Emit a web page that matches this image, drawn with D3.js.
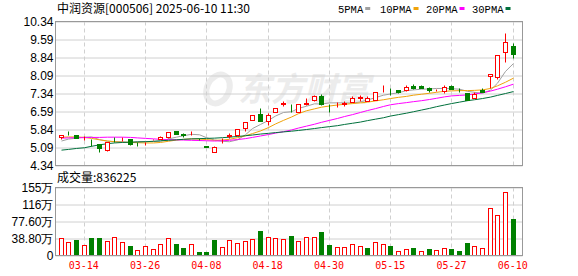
<!DOCTYPE html>
<html>
<head>
<meta charset="utf-8">
<script src="https://cdn.jsdelivr.net/npm/d3@7"></script>
<style>
  body { margin: 0; background: #fff; }
  svg { display: block; }
</style>
</head>
<body>
<svg id="chart"></svg>
<script>
// trading days shown on the chart
const dates = ['03-11','03-12','03-13','03-14','03-17','03-18','03-19','03-20','03-21','03-24',
  '03-25','03-26','03-27','03-28','03-31','04-01','04-02','04-03','04-07','04-08',
  '04-09','04-10','04-11','04-14','04-15','04-16','04-17','04-18','04-21','04-22',
  '04-23','04-24','04-25','04-28','04-29','04-30','05-06','05-07','05-08','05-09',
  '05-12','05-13','05-14','05-15','05-16','05-19','05-20','05-21','05-22','05-23',
  '05-26','05-27','05-28','05-29','05-30','06-03','06-04','06-05','06-06','06-10'];

const open = [5.52,5.70,5.62,5.47,5.42,5.23,4.97,5.44,5.44,5.44,
  5.28,5.26,5.40,5.44,5.51,5.76,5.66,5.68,5.46,5.14,
  4.90,5.35,5.56,5.59,5.92,6.24,6.48,6.20,6.56,6.92,
  6.59,6.59,6.90,7.05,7.22,6.82,6.89,6.91,6.98,7.16,
  7.04,7.08,7.44,7.40,7.48,7.49,7.67,7.67,7.59,7.48,
  7.45,7.65,7.50,7.35,7.17,7.48,8.05,8.01,9.06,9.33];
const high = [5.63,5.78,5.63,5.55,5.44,5.24,5.31,5.53,5.51,5.45,
  5.31,5.32,5.44,5.56,5.73,5.78,5.70,5.76,5.47,5.14,
  5.14,5.48,5.68,5.86,6.16,6.46,6.73,6.52,6.74,7.03,
  6.90,6.91,7.15,7.28,7.31,6.90,6.98,7.01,7.24,7.28,
  7.22,7.41,7.70,7.56,7.50,7.69,7.74,7.68,7.63,7.52,
  7.70,7.71,7.57,7.36,7.40,7.58,8.15,8.96,9.85,9.45];
const low = [5.46,5.62,5.47,5.40,5.17,4.92,4.96,5.34,5.37,5.20,
  5.17,5.18,5.39,5.43,5.50,5.64,5.52,5.59,5.42,5.13,
  4.89,5.27,5.48,5.58,5.78,6.23,6.18,6.03,6.55,6.80,
  6.56,6.58,6.88,7.04,6.87,6.56,6.76,6.80,6.97,7.03,
  7.03,7.07,7.40,7.28,7.36,7.45,7.51,7.56,7.42,7.46,
  7.38,7.52,7.42,7.05,7.16,7.39,7.59,7.95,8.65,8.80];
const close = [5.62,5.68,5.48,5.49,5.40,5.06,5.30,5.43,5.46,5.25,
  5.27,5.28,5.42,5.53,5.73,5.65,5.59,5.70,5.44,5.13,
  5.12,5.37,5.59,5.85,6.15,6.45,6.20,6.45,6.73,6.94,
  6.57,6.90,6.93,7.22,6.90,6.80,6.91,6.93,7.15,7.18,
  7.17,7.40,7.46,7.39,7.41,7.63,7.56,7.59,7.48,7.50,
  7.60,7.53,7.47,7.06,7.31,7.40,8.15,8.95,9.48,8.98];
const prevClose0 = 5.55;

// volume in 万
const volume = [41,30.4,35.8,23.6,40.3,40.3,33.5,41.9,30.4,21.3,
  12.2,21.3,14.5,25.9,39.6,26.6,17.5,25.9,7.6,7.6,
  35.8,19,35,28.2,33.5,37.3,56.3,41.9,40.3,38,
  44.9,33.5,41.9,41.9,54,23.6,20.5,18.3,25.9,21.3,
  17.5,30.4,25.9,21.3,11.4,14.5,17.5,9.9,15.2,12.2,
  16.7,14.5,10.7,28.2,21.3,17.5,108,92,146,83.6];

const ma5 = [5.36,5.44,5.48,5.52,5.53,5.42,5.35,5.34,5.33,5.30,
  5.34,5.34,5.34,5.35,5.45,5.52,5.58,5.64,5.62,5.50,
  5.40,5.35,5.33,5.41,5.62,5.88,6.05,6.22,6.40,6.55,
  6.58,6.72,6.81,6.91,6.90,6.95,6.95,6.95,6.94,6.99,
  7.07,7.17,7.27,7.32,7.37,7.46,7.49,7.52,7.53,7.55,
  7.55,7.54,7.52,7.43,7.39,7.35,7.48,7.77,8.26,8.59];
const ma10 = [5.52,5.53,5.53,5.51,5.47,5.41,5.36,5.33,5.31,5.30,
  5.29,5.28,5.28,5.30,5.35,5.40,5.43,5.45,5.44,5.42,
  5.39,5.40,5.43,5.50,5.58,5.67,5.78,5.92,6.07,6.22,
  6.36,6.50,6.62,6.70,6.77,6.82,6.86,6.89,6.92,6.95,
  6.98,7.03,7.08,7.13,7.18,7.22,7.27,7.31,7.35,7.39,
  7.43,7.45,7.46,7.46,7.47,7.49,7.55,7.66,7.81,7.98];
const ma20 = [5.48,5.49,5.50,5.50,5.51,5.51,5.52,5.52,5.52,5.51,
  5.49,5.47,5.45,5.43,5.42,5.41,5.40,5.39,5.38,5.37,
  5.36,5.37,5.39,5.42,5.46,5.51,5.57,5.63,5.69,5.75,
  5.82,5.90,5.98,6.06,6.14,6.22,6.30,6.38,6.46,6.55,
  6.63,6.71,6.80,6.87,6.92,6.96,7.00,7.04,7.09,7.14,
  7.20,7.24,7.26,7.28,7.32,7.37,7.44,7.52,7.62,7.73];
const ma30 = [4.98,5.01,5.05,5.08,5.14,5.20,5.25,5.28,5.30,5.31,
  5.32,5.33,5.35,5.37,5.39,5.41,5.43,5.45,5.46,5.47,
  5.48,5.50,5.52,5.55,5.58,5.61,5.65,5.68,5.71,5.74,
  5.77,5.80,5.84,5.88,5.92,5.96,6.00,6.05,6.10,6.15,
  6.21,6.27,6.33,6.40,6.46,6.52,6.58,6.65,6.72,6.79,
  6.86,6.92,6.98,7.04,7.08,7.13,7.19,7.26,7.34,7.42];

const priceTicks = [4.34,5.09,5.84,6.59,7.34,8.09,8.84,9.59,10.34];
const volTicks = [0,38.8,77.6,116.4,155.2];
const volTickLabels = ['0','38.80万','77.60万','116万','155万'];
const tickDates = ['03-14','03-26','04-08','04-18','04-30','05-15','05-27','06-10'];

const maNames = ['5PMA','10PMA','20PMA','30PMA'];
const maColors = ['#a0a0a0','#f0a30a','#ff00ff','#00703c'];
const maSeries = [ma5, ma10, ma20, ma30];

const W = 578, H = 276;
const up = '#ff0000', down = '#008000';
const grid = '#d0d0d0';

const svg = d3.select('#chart').attr('width', W).attr('height', H);

const x = d3.scaleBand().domain(dates).range([57, 516.6]);
const cx = d => Math.round(x(d) + x.bandwidth() / 2) + 0.5;
const y = d3.scaleLinear().domain([4.34, 10.34]).range([165.5, 21.5]);
const yv = d3.scaleLinear().domain([0, 155.2]).range([255.5, 187.5]);

const L = 55.5, R = 522.5;

// title
svg.append('text').attr('x', 57).attr('y', 13)
  .style('font-family', '"Noto Sans CJK SC", sans-serif').style('font-size', '12px')
  .attr('fill', '#000').text('中润资源[000506] 2025-06-10 11:30');

// legend
const legX = [338, 380, 426, 472];
maNames.forEach((n, i) => {
  const t = svg.append('text').attr('x', legX[i]).attr('y', 13)
    .style('font-family', '"Liberation Mono", monospace').style('font-size', '10.5px')
    .attr('fill', '#000').text(n);
  const w = t.node().getComputedTextLength();
  svg.append('rect').attr('x', legX[i] + w + 2).attr('y', 7).attr('width', 5).attr('height', 3)
    .attr('fill', maColors[i]);
});

// watermark
svg.append('text').attr('x', 238).attr('y', 101)
  .style('font-family', '"Noto Sans CJK SC", sans-serif').style('font-size', '33px')
  .style('font-weight', 'bold').style('font-style', 'italic')
  .attr('fill', '#ececec').text('东方财富');
svg.append('ellipse').attr('cx', 218).attr('cy', 89).attr('rx', 11).attr('ry', 15)
  .attr('transform', 'rotate(25,218,89)').attr('fill', 'none')
  .attr('stroke', '#ececec').attr('stroke-width', 6);

function panel(g, yScale, ticks, labels) {
  // horizontal grid
  g.append('g').attr('transform', `translate(${L},0)`)
    .call(d3.axisLeft(yScale).tickValues(ticks).tickSize(-(R - L)).tickFormat(''))
    .call(a => a.select('.domain').remove())
    .call(a => a.selectAll('line').attr('stroke', grid));
  // vertical dashed grid
  g.selectAll('.vg').data(tickDates).enter().append('line')
    .attr('x1', d => cx(d)).attr('x2', d => cx(d))
    .attr('y1', yScale.range()[1]).attr('y2', yScale.range()[0])
    .attr('stroke', grid).attr('stroke-dasharray', '4,3');
  // labels
  g.append('g').attr('transform', `translate(${L},0)`)
    .call(d3.axisLeft(yScale).tickValues(ticks).tickSize(0).tickPadding(2)
      .tickFormat((d, i) => labels[i]))
    .call(a => a.select('.domain').remove())
    .call(a => a.selectAll('text').attr('fill', '#000')
      .style('font-family', '"Liberation Sans", Arial, sans-serif').style('font-size', '12px'));
}

const gp = svg.append('g');
panel(gp, y, priceTicks, priceTicks.map(d => d.toFixed(2)));
const gv = svg.append('g');
panel(gv, yv, volTicks, volTickLabels);

// borders
svg.append('rect').attr('x', L).attr('y', 21.5).attr('width', R - L).attr('height', 144)
  .attr('fill', 'none').attr('stroke', '#999');
svg.append('rect').attr('x', L).attr('y', 187.5).attr('width', R - L).attr('height', 68)
  .attr('fill', 'none').attr('stroke', '#999');

// MA lines
maSeries.forEach((s, k) => {
  const line = d3.line().x((d, i) => cx(dates[i])).y(d => y(d));
  gp.append('path').datum(s).attr('d', line).attr('fill', 'none')
    .attr('stroke', maColors[k]).attr('stroke-width', 1);
});

// candles
const isUp = i => close[i] > open[i] || (close[i] === open[i] && close[i] >= (i ? close[i - 1] : prevClose0));
const cg = gp.selectAll('.c').data(dates).enter().append('g');
cg.append('line')
  .attr('x1', d => cx(d)).attr('x2', d => cx(d))
  .attr('y1', (d, i) => Math.round(y(high[i])) + 0.5)
  .attr('y2', (d, i) => Math.round(y(low[i])) + 0.5)
  .attr('stroke', (d, i) => isUp(i) ? up : down);
cg.append('rect')
  .attr('x', d => cx(d) - 2)
  .attr('y', (d, i) => Math.round(y(Math.max(open[i], close[i]))) + 0.5)
  .attr('width', 4)
  .attr('height', (d, i) => Math.max(0, Math.round(y(Math.min(open[i], close[i]))) - Math.round(y(Math.max(open[i], close[i])))))
  .attr('fill', (d, i) => isUp(i) ? '#fff' : down)
  .attr('stroke', (d, i) => isUp(i) ? up : down);

// volume
svg.append('text').attr('x', 57).attr('y', 182)
  .style('font-family', '"Noto Sans CJK SC", sans-serif').style('font-size', '12px')
  .attr('fill', '#000').text('成交量:836225');

const volUp = i => close[i] >= (i ? close[i - 1] : prevClose0);
gv.selectAll('.v').data(dates).enter().append('rect')
  .attr('x', d => cx(d) - 2)
  .attr('y', (d, i) => Math.round(yv(volume[i])) + 0.5)
  .attr('width', 4)
  .attr('height', (d, i) => 255 - Math.round(yv(volume[i])))
  .attr('fill', (d, i) => volUp(i) ? '#fff' : down)
  .attr('stroke', (d, i) => volUp(i) ? up : down);

// x axis labels
svg.append('g').attr('transform', 'translate(0,255.5)')
  .call(d3.axisBottom(x).tickValues(tickDates).tickSize(0).tickPadding(6))
  .call(a => a.select('.domain').remove())
  .call(a => a.selectAll('text').attr('fill', '#ff0000')
    .style('font-family', '"DejaVu Sans Mono", monospace').style('font-size', '10px'));
</script>
</body>
</html>
